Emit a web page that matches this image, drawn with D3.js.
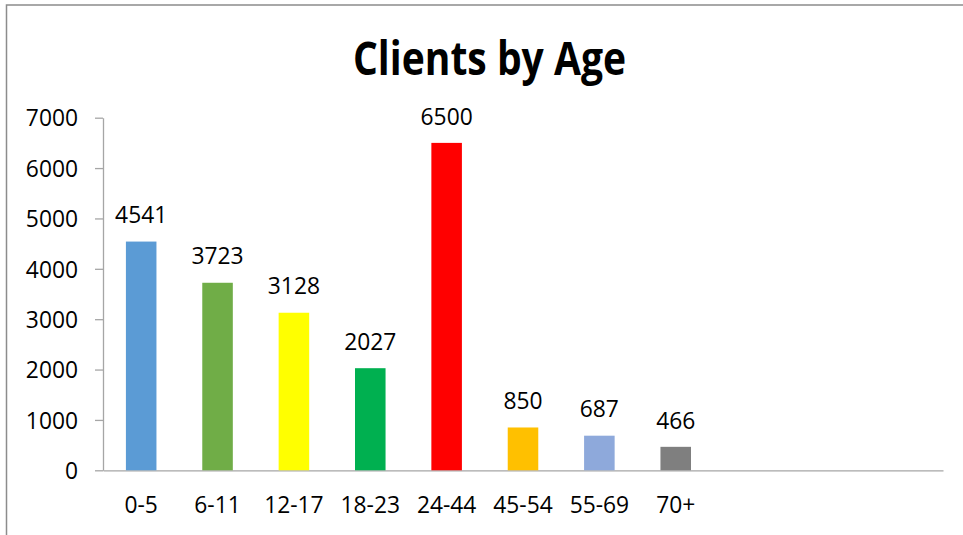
<!DOCTYPE html>
<html>
<head>
<meta charset="utf-8">
<script src="https://cdn.jsdelivr.net/npm/d3@7"></script>
<style>
  html, body { margin: 0; padding: 0; background: #fff; }
  svg { display: block; }
  text { font-family: "Open Sans", "Noto Sans", sans-serif; fill: #000; }
</style>
</head>
<body>
<svg id="chart" width="963" height="535"></svg>
<script>
// Age groups and client counts
const categories = ["0-5", "6-11", "12-17", "18-23", "24-44", "45-54", "55-69", "70+"];
const clients = [4541, 3723, 3128, 2027, 6500, 850, 687, 466];
const barColors = ["#5B9BD5", "#70AD47", "#FFFF00", "#00B050", "#FF0000", "#FFC000", "#8EA9DB", "#7F7F7F"];
const yTicks = [0, 1000, 2000, 3000, 4000, 5000, 6000, 7000];
const slotCount = 11; // category axis keeps three empty slots at the end

const svg = d3.select("#chart");
const W = 963, H = 535;
const plot = { left: 103, right: 943, top: 117.7, bottom: 470.3 };
const labelSize = 22.8;

// Chart-area frame
svg.append("rect")
  .attr("x", 6.5).attr("y", 5)
  .attr("width", W + 10).attr("height", H + 10)
  .attr("fill", "#fff")
  .attr("stroke", "#8c8c8c")
  .attr("stroke-width", 1.5);

// Title
svg.append("text")
  .attr("x", 489.5).attr("y", 74.5)
  .attr("text-anchor", "middle")
  .attr("font-size", 46)
  .attr("font-weight", "bold")
  .attr("textLength", 273)
  .attr("lengthAdjust", "spacingAndGlyphs")
  .text("Clients by Age");

const x = d3.scaleBand()
  .domain(d3.range(slotCount))
  .range([plot.left, plot.right])
  .paddingInner(0.6)
  .paddingOuter(0.3);

const y = d3.scaleLinear()
  .domain([0, 7000])
  .range([plot.bottom, plot.top]);

// Y axis
const yAxis = svg.append("g")
  .attr("transform", `translate(${plot.left},0)`)
  .call(d3.axisLeft(y).tickValues(yTicks).tickFormat(d3.format("d"))
    .tickSize(8).tickSizeOuter(0).tickPadding(17));
yAxis.select(".domain").attr("stroke", "#a6a6a6").attr("stroke-width", 1.3);
yAxis.selectAll(".tick line").attr("stroke", "#a6a6a6").attr("stroke-width", 1.3);
yAxis.selectAll(".tick text")
  .attr("font-size", labelSize)
  .attr("fill", "#000")
  .attr("dy", "0.36em");

// X axis (no tick marks)
const xAxis = svg.append("g")
  .attr("transform", `translate(0,${plot.bottom})`)
  .call(d3.axisBottom(x).tickSize(0).tickSizeOuter(0).tickPadding(0)
    .tickFormat(i => categories[i] || ""));
xAxis.select(".domain").attr("stroke", "#a6a6a6").attr("stroke-width", 1.3);
xAxis.selectAll(".tick text")
  .attr("font-size", labelSize)
  .attr("fill", "#000")
  .attr("y", 0)
  .attr("dy", 0)
  .attr("transform", "translate(0,42.8)");

// Bars
svg.append("g").selectAll("rect")
  .data(clients)
  .join("rect")
  .attr("x", (d, i) => x(i))
  .attr("y", d => y(d))
  .attr("width", x.bandwidth())
  .attr("height", d => y(0) - y(d))
  .attr("fill", (d, i) => barColors[i]);

// Value labels above bars
svg.append("g").selectAll("text")
  .data(clients)
  .join("text")
  .attr("x", (d, i) => x(i) + x.bandwidth() / 2)
  .attr("y", d => y(d) - 18.3)
  .attr("text-anchor", "middle")
  .attr("font-size", labelSize)
  .text(d => d);
</script>
</body>
</html>
